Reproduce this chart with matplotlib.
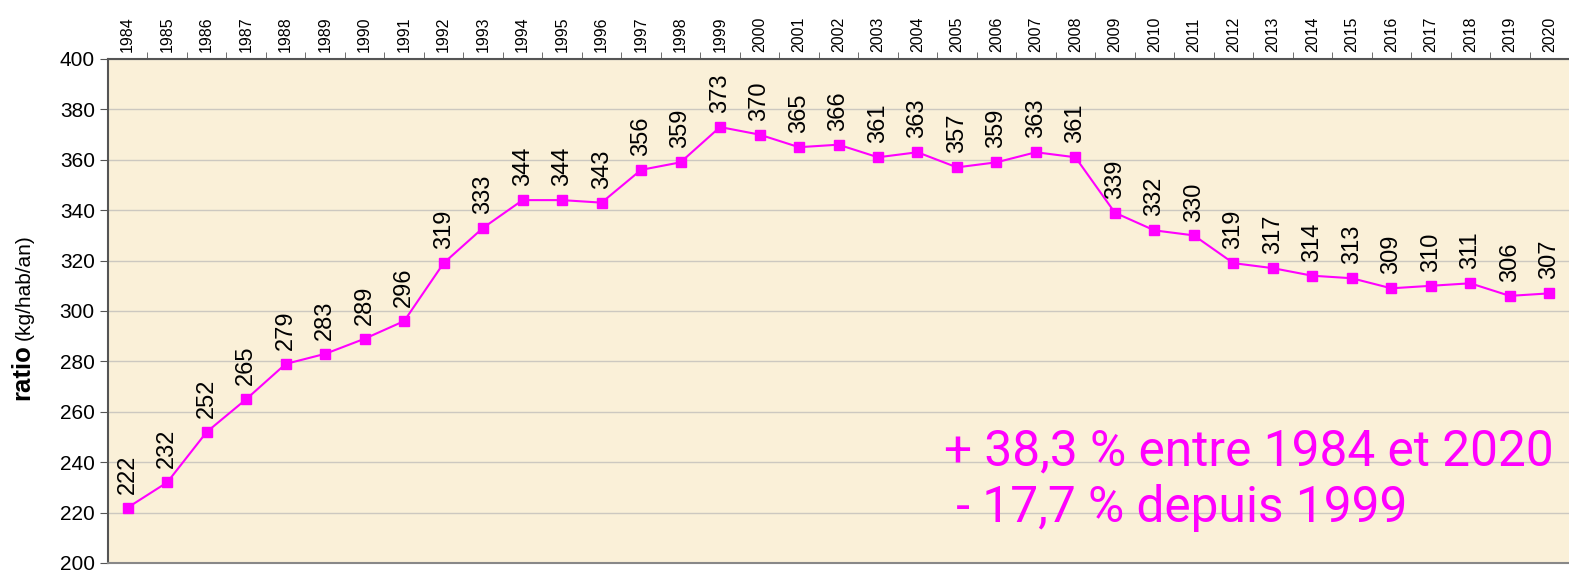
import matplotlib
matplotlib.use('Agg')
import matplotlib.pyplot as plt

# data
years = list(range(1984, 2021))
ratio = [222, 232, 252, 265, 279, 283, 289, 296, 319, 333, 344, 344, 343, 356, 359,
         373, 370, 365, 366, 361, 363, 357, 359, 363, 361, 339, 332, 330, 319, 317,
         314, 313, 309, 310, 311, 306, 307]
note1 = '+ 38,3 % entre 1984 et 2020'
note2 = ' - 17,7 % depuis 1999'

plt.rcParams['font.family'] = ['Liberation Sans', 'DejaVu Sans']
pink = '#FF00FF'

fig = plt.figure(figsize=(15.69, 5.70), dpi=100)
ax = fig.add_axes([108/1569, 7/570, 1461/1569, 504/570])
ax.set_facecolor('#FAF0D8')

x = list(range(len(years)))
ax.plot(x, ratio, color=pink, lw=1.5, marker='s', ms=7, zorder=3)
for xi, v in zip(x, ratio):
    ax.annotate(str(v), (xi, v), xytext=(0, 10), textcoords='offset points',
                rotation=90, ha='center', va='bottom', fontsize=17, zorder=4)

ax.set_xlim(-0.5, len(years) - 0.5)
ax.set_ylim(200, 400)
ax.set_yticks(range(200, 401, 20))
ax.yaxis.grid(True, color='#CCC8C0', lw=1)
ax.set_axisbelow(True)
ax.tick_params(axis='y', labelsize=15, length=6, direction='out', color='#555555')

# years on top, ticks between categories
ax.xaxis.tick_top()
ax.set_xticks(x)
ax.set_xticklabels([str(y) for y in years], rotation=90, fontsize=11.5)
ax.tick_params(axis='x', which='major', length=0, pad=5)
ax.set_xticks([i - 0.5 for i in range(1, len(years))], minor=True)
ax.tick_params(axis='x', which='minor', top=True, bottom=False, length=5,
               direction='out', color='#555555')

for s in ['top', 'left']:
    ax.spines[s].set_color('#555555')
    ax.spines[s].set_linewidth(1.5)
ax.spines['bottom'].set_color('#888888')
ax.spines['bottom'].set_linewidth(1.5)
ax.spines['right'].set_visible(False)

# y label: bold part + unit
ax.text(-0.0589, 0.323, 'ratio', transform=ax.transAxes, rotation=90,
        ha='center', va='bottom', fontsize=18.5, fontweight='bold')
ax.text(-0.0575, 0.442, '(kg/hab/an)', transform=ax.transAxes, rotation=90,
        ha='center', va='bottom', fontsize=15)

ax.text(0.5725, 0.194, note1, transform=ax.transAxes, color=pink,
        fontsize=35.7, family=['Roboto', 'DejaVu Sans'], va='baseline')
ax.text(0.5725, 0.081, note2, transform=ax.transAxes, color=pink,
        fontsize=35.7, family=['Roboto', 'DejaVu Sans'], va='baseline')

fig.savefig('out.png', dpi=100)
